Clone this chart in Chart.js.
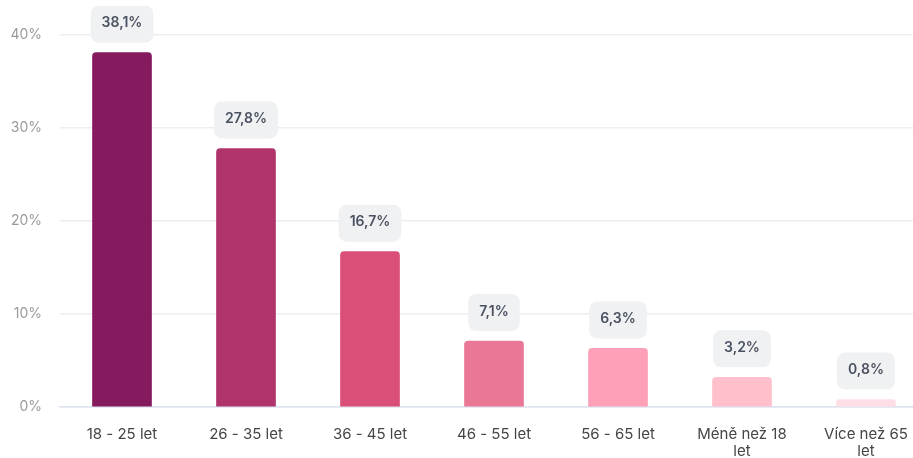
<!DOCTYPE html>
<html><head><meta charset="utf-8">
<script src="https://cdn.jsdelivr.net/npm/chart.js@4.4.1/dist/chart.umd.min.js"></script>
<style>
html,body{margin:0;padding:0;background:#fff;overflow:hidden;}
#wrap{width:930px;height:458px;position:relative;}
</style></head>
<body>
<div id="wrap"><canvas id="c"></canvas></div>
<script>
const categories = [["18 - 25 let"],["26 - 35 let"],["36 - 45 let"],["46 - 55 let"],["56 - 65 let"],["Méně než 18","let"],["Více než 65","let"]];
const values = [38.1, 27.8, 16.7, 7.1, 6.3, 3.2, 0.8];
const valueLabels = ["38,1%","27,8%","16,7%","7,1%","6,3%","3,2%","0,8%"];
const barColors = ["#861a5e","#b0346b","#d94f77","#e97795","#fda0b8","#ffc0cc","#ffdfe5"];
const yTicks = [0,10,20,30,40];

const labelPlugin = {
  id: 'valueBoxes',
  afterDatasetsDraw(chart){
    const ctx = chart.ctx;
    const meta = chart.getDatasetMeta(0);
    ctx.save();
    ctx.font = '600 14px Inter, "Open Sans", sans-serif';
    meta.data.forEach((bar, i) => {
      const txt = valueLabels[i];
      const w = ctx.measureText(txt).width + 22;
      const h = 37;
      const x = bar.x - w/2;
      const y = bar.y - 10 - h;
      ctx.fillStyle = '#f0f1f2';
      ctx.beginPath();
      ctx.roundRect(x, y, w, h, 8);
      ctx.fill();
      ctx.fillStyle = '#4a5160';
      ctx.textAlign = 'center';
      ctx.textBaseline = 'middle';
      ctx.fillText(txt, bar.x, y + h/2 - 1);
    });
    ctx.restore();
  }
};

new Chart(document.getElementById('c'), {
  type: 'bar',
  data: {
    labels: categories,
    datasets: [{
      data: values,
      backgroundColor: barColors,
      barThickness: 59,
      borderRadius: {topLeft: 4, topRight: 4, bottomLeft: 0, bottomRight: 0},
      borderSkipped: 'bottom'
    }]
  },
  options: {
    responsive: true,
    maintainAspectRatio: false,
    animation: false,
    layout: {padding: {top: 35, right: 2, left: 0, bottom: 0}},
    plugins: {legend: {display: false}, tooltip: {enabled: false}},
    scales: {
      x: {
        grid: {display: false, drawTicks: false},
        border: {display: true, color: '#dde2f0', width: 1.5},
        ticks: {color: '#454545', font: {family: 'Inter, "Open Sans", sans-serif', size: 15, lineHeight: 1.15}, padding: 19, maxRotation: 0, autoSkip: false},
        afterFit(s){ s.height = 51; }
      },
      y: {
        min: 0, max: 40,
        afterBuildTicks(s){ s.ticks = yTicks.map(v => ({value: v})); },
        grid: {color: '#eceef1', lineWidth: 1.5, drawTicks: false},
        border: {display: false},
        ticks: {color: '#9a9a9a', font: {family: 'Inter, "Open Sans", sans-serif', size: 14}, padding: 18, callback: v => v + '%'},
        afterFit(s){ s.width = 60; }
      }
    }
  },
  plugins: [labelPlugin]
});
</script>
</body></html>
